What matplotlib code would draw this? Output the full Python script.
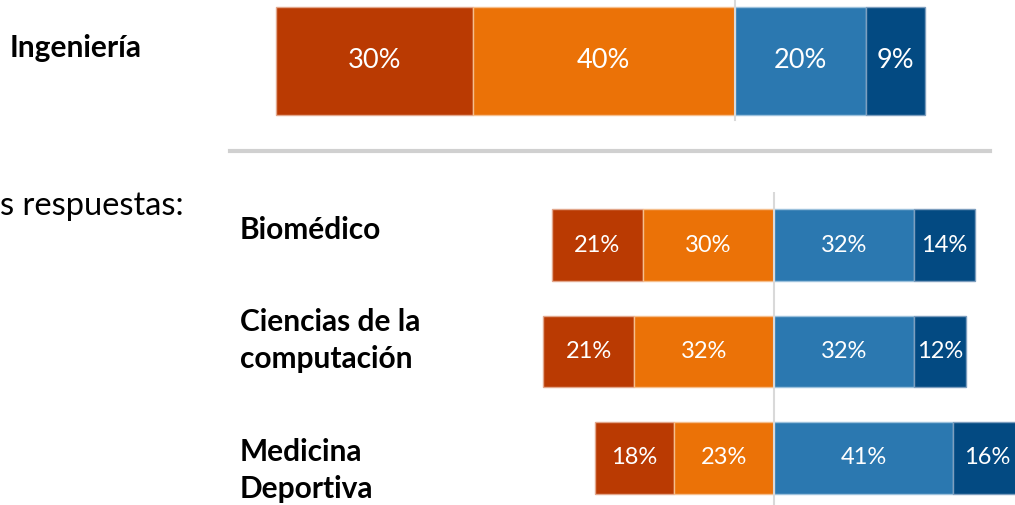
import matplotlib
matplotlib.use('Agg')
import matplotlib.pyplot as plt
from matplotlib.lines import Line2D
import numpy as np

# data
top_categories = ['Ingeniería']
top_strong_disagree = [30]
top_disagree = [40]
top_agree = [20]
top_strong_agree = [9]

bottom_categories = ['Biomédico', 'Ciencias de la\ncomputación', 'Medicina\nDeportiva']
bottom_strong_disagree = [21, 21, 18]
bottom_disagree = [30, 32, 23]
bottom_agree = [32, 32, 41]
bottom_strong_agree = [14, 12, 16]

side_text = 's respuestas:'

colors = ['#BA3A02', '#EB7207', '#2B78B0', '#034A82']
edges = ['#E2A78C', '#F5BE8C', '#9CC1DC', '#7D9EBE']

plt.rcParams['font.family'] = ['Lato', 'DejaVu Sans']

W, H = 1015, 505
fig = plt.figure(figsize=(W / 100, H / 100), dpi=100)


def draw_chart(ax, cats, sdis, dis, agr, sagr, height, label_size):
    y = np.arange(len(cats))
    sdis, dis, agr, sagr = map(np.array, (sdis, dis, agr, sagr))
    segs = [
        (-dis, -sdis, colors[0], edges[0], sdis),
        (0, -dis, colors[1], edges[1], dis),
        (0, agr, colors[2], edges[2], agr),
        (agr, sagr, colors[3], edges[3], sagr),
    ]
    for left, width, c, e, vals in segs:
        bars = ax.barh(y, width, left=left, height=height, color=c,
                       edgecolor=e, linewidth=1.0, zorder=2)
        for b, v in zip(bars, vals):
            cx = b.get_x() + b.get_width() / 2
            cy = b.get_y() + b.get_height() / 2
            ax.text(cx, cy, f'{v}%', color='white', ha='center', va='center',
                    fontsize=label_size, zorder=4)
    ax.axis('off')


# top chart (Ingeniería)
ax_top = fig.add_axes([0, (H - 128) / H, 1, 134 / H])
draw_chart(ax_top, top_categories, top_strong_disagree, top_disagree,
           top_agree, top_strong_agree, 0.8, 19.5)
c_top, s_top = 735, 6.56
ax_top.set_xlim(-c_top / s_top, (W - c_top) / s_top)
ax_top.set_ylim(0.5, -0.5)
ax_top.axvline(0, ymin=(128 - 120) / 134, ymax=1, color='#D9D9D9', lw=1.5, zorder=3)
ax_top.text(-(c_top - 142) / s_top, -0.1, top_categories[0], ha='right', va='center',
            fontsize=21.5, fontweight='bold', color='black')

# bottom chart
ax_bot = fig.add_axes([0, (H - 511.25) / H, 1, 319.5 / H])
draw_chart(ax_bot, bottom_categories, bottom_strong_disagree, bottom_disagree,
           bottom_agree, bottom_strong_agree, 0.676, 17)
c_bot, s_bot = 774, 4.36
ax_bot.set_xlim(-c_bot / s_bot, (W - c_bot) / s_bot)
ax_bot.set_ylim(2.5, -0.5)
ax_bot.axvline(0, color='#D9D9D9', lw=1.5, zorder=3)
label_offsets = [-0.14, -0.1, 0.12]
for i, (cat, off) in enumerate(zip(bottom_categories, label_offsets)):
    ax_bot.text(-(c_bot - 240) / s_bot, i + off, cat, ha='left', va='center',
                fontsize=21.5, fontweight='bold', color='black', linespacing=1.4)

# divider line between the two charts
fig.add_artist(Line2D([230 / W, 990 / W], [(H - 151) / H] * 2, color='#D0D0D0',
                      lw=3, transform=fig.transFigure))

fig.text(0, (H - 215) / H, side_text, ha='left', va='baseline', fontsize=23.5,
         color='black')

fig.savefig('out.png', dpi=100)
